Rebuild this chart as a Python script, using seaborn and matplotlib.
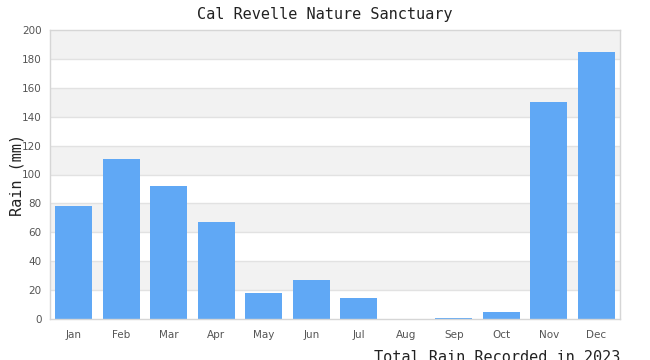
import matplotlib
matplotlib.use("Agg")
import matplotlib.pyplot as plt
import seaborn as sns
import pandas as pd

months = ["Jan", "Feb", "Mar", "Apr", "May", "Jun", "Jul", "Aug", "Sep", "Oct", "Nov", "Dec"]
rain_mm = [78, 111, 92, 67, 18, 27, 14.5, 0, 1, 5, 150, 185]
y_ticks = [0, 20, 40, 60, 80, 100, 120, 140, 160, 180, 200]

title = "Cal Revelle Nature Sanctuary"
ylabel = "Rain (mm)"
footer = "Total Rain Recorded in 2023"

sns.set_theme(style="white")
plt.rcParams["font.family"] = ["DejaVu Sans"]

df = pd.DataFrame({"month": months, "rain": rain_mm})

fig = plt.figure(figsize=(6.5, 3.6), dpi=100)
ax = fig.add_axes([50 / 650, 1 - 319 / 360, 570 / 650, 289 / 360])

# alternating bands
for i in range(len(y_ticks) - 1):
    if i % 2 == 1:
        ax.axhspan(y_ticks[i], y_ticks[i + 1], color="#f2f2f2", zorder=0, lw=0)
for t in y_ticks[1:-1]:
    ax.axhline(t, color="#e2e2e2", lw=1, zorder=0.5)

sns.barplot(data=df, x="month", y="rain", color="#60a8f5", saturation=1,
            width=0.78, ax=ax, zorder=2, linewidth=0, edgecolor="none")

ax.set_ylim(0, 200)
ax.set_xlim(-0.5, len(months) - 0.5)
ax.set_yticks(y_ticks)
ax.set_xlabel("")
ax.set_ylabel(ylabel, family="DejaVu Sans Mono", fontsize=11, color="#222222")
ax.yaxis.set_label_coords(-0.044, 0.5)
ax.tick_params(axis="both", length=0, labelsize=7.5, labelcolor="#555555", pad=6)
ax.tick_params(axis="x", pad=8)
for s in ax.spines.values():
    s.set_color("#d6d6d6")
    s.set_linewidth(1)

fig.text(0.5, 1 - 14 / 360, title, family="DejaVu Sans Mono", fontsize=11,
         ha="center", va="center", color="#222222")
fig.text(620 / 650, -2 / 360, footer, family="DejaVu Sans Mono", fontsize=11,
         ha="right", va="baseline", color="#222222")

fig.savefig("out.png", dpi=100, facecolor="white")
